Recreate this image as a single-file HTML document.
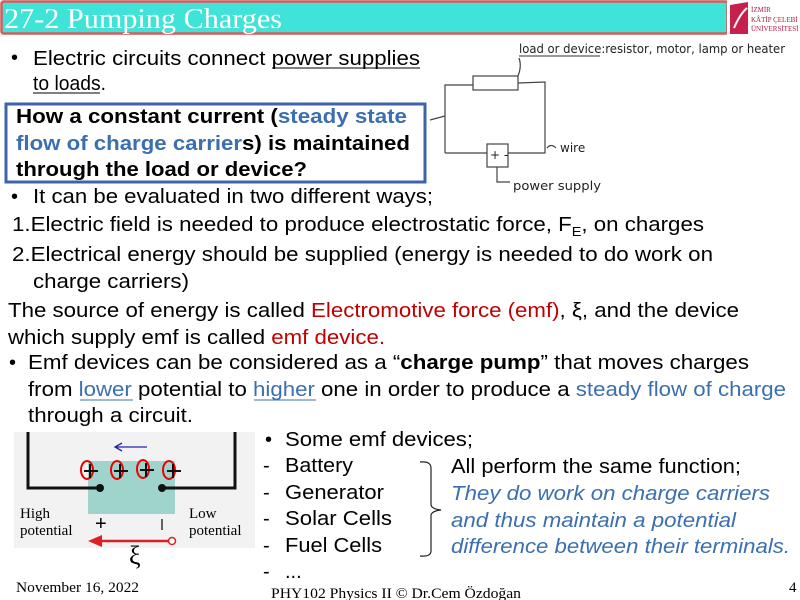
<!DOCTYPE html>
<html><head><meta charset="utf-8"><style>
html,body{margin:0;padding:0;background:#fff;}
svg{display:block;}
.t{font-family:"Liberation Sans",Arial,sans-serif;font-size:20px;fill:#000;}
.s{font-family:"Liberation Serif","Times New Roman",serif;}
.h{font-family:"Comic Sans MS","DejaVu Sans",sans-serif;font-size:12px;fill:#222;}
</style></head><body>
<svg width="800" height="600" viewBox="0 0 800 600" xmlns="http://www.w3.org/2000/svg">
<rect x="1.5" y="1.5" width="726" height="32" rx="2" fill="#3fe3d8" stroke="#d85a5a" stroke-width="2.5"/>
<text x="4" y="28" class="s" font-size="28" fill="#fff" textLength="278" lengthAdjust="spacingAndGlyphs">27-2 Pumping Charges</text>
<rect x="727" y="0" width="73" height="36" fill="#fff"/>
<path d="M730 5 L748 2 L748 34 L730 34 Z" fill="#c8204c"/>
<path d="M734 28 Q740 14 747 8" stroke="#fff" stroke-width="2" fill="none"/>
<text x="751" y="12" class="s" font-size="7" fill="#b01840">İZMİR</text>
<text x="751" y="22" class="s" font-size="7" fill="#b01840">KÂTİP ÇELEBİ</text>
<text x="751" y="31" class="s" font-size="7" fill="#b01840">ÜNİVERSİTESİ</text>

<text x="11" y="64" class="t">•</text>
<text x="33" y="65" class="t" textLength="387" lengthAdjust="spacingAndGlyphs">Electric circuits connect power supplies</text>
<line x1="272" y1="68" x2="420" y2="68" stroke="#000" stroke-width="1"/>
<text x="33" y="90" class="t" textLength="73" lengthAdjust="spacingAndGlyphs">to loads.</text>
<line x1="33" y1="93" x2="100" y2="93" stroke="#000" stroke-width="1"/>

<rect x="6" y="104" width="419" height="78" fill="#fff" stroke="#3b65a8" stroke-width="3"/>
<text x="16" y="123" class="t" font-weight="bold" textLength="391" lengthAdjust="spacingAndGlyphs">How a constant current (<tspan fill="#3b6fb0">steady state</tspan></text>
<text x="16" y="150" class="t" font-weight="bold" textLength="394" lengthAdjust="spacingAndGlyphs"><tspan fill="#3b6fb0">flow of charge carrier</tspan>s) is maintained</text>
<text x="16" y="176" class="t" font-weight="bold" textLength="291" lengthAdjust="spacingAndGlyphs">through the load or device?</text>

<g stroke="#444" stroke-width="1.2" fill="none">
<path d="M445 153 L445 85 L473 85"/>
<rect x="473" y="76" width="45" height="14"/>
<path d="M518 83 L545 82 L545 153 L508 153"/>
<rect x="487" y="144" width="21" height="23"/>
<path d="M445 153 L487 153"/>
<path d="M497 167 L497 182 L510 182"/>
<path d="M518 76 Q522 66 519 58"/>
<path d="M547 148 Q551 143 556 148"/>
<path d="M430 120 L445 116"/>
</g>
<text x="490" y="159" class="h" font-size="10">+ -</text>
<text x="519" y="53" class="h" font-size="11" textLength="266" lengthAdjust="spacingAndGlyphs">load or device:resistor, motor, lamp or heater</text>
<line x1="519" y1="56" x2="600" y2="56" stroke="#333" stroke-width="1"/>
<text x="560" y="152" class="h" font-size="12">wire</text>
<text x="513" y="190" class="h" font-size="12" textLength="88" lengthAdjust="spacingAndGlyphs">power supply</text>

<text x="11" y="203" class="t">•</text>
<text x="33" y="203" class="t" textLength="400" lengthAdjust="spacingAndGlyphs">It can be evaluated in two different ways;</text>
<text x="12" y="231" class="t" textLength="692" lengthAdjust="spacingAndGlyphs">1.Electric field is needed to produce electrostatic force, F<tspan font-size="13" dy="5">E</tspan><tspan dy="-5">, on charges</tspan></text>
<text x="12" y="261" class="t" textLength="701" lengthAdjust="spacingAndGlyphs">2.Electrical energy should be supplied (energy is needed to do work on</text>
<text x="33" y="288" class="t" textLength="156" lengthAdjust="spacingAndGlyphs">charge carriers)</text>
<text x="8" y="317" class="t" textLength="731" lengthAdjust="spacingAndGlyphs">The source of energy is called <tspan fill="#c00000">Electromotive force (emf)</tspan>, ξ, and the device</text>
<text x="8" y="344" class="t" textLength="377" lengthAdjust="spacingAndGlyphs">which supply emf is called <tspan fill="#c00000">emf device.</tspan></text>
<text x="9" y="369" class="t">•</text>
<text x="28" y="369" class="t" textLength="721" lengthAdjust="spacingAndGlyphs">Emf devices can be considered as a “<tspan font-weight="bold">charge pump</tspan>” that moves charges</text>
<text x="28" y="396" class="t" textLength="758" lengthAdjust="spacingAndGlyphs">from <tspan fill="#3b6fb0">lower</tspan> potential to <tspan fill="#3b6fb0">higher</tspan> one in order to produce a <tspan fill="#3b6fb0">steady flow of charge</tspan></text>
<line x1="80" y1="400" x2="133" y2="400" stroke="#3b6fb0" stroke-width="1"/>
<line x1="254" y1="400" x2="316" y2="400" stroke="#3b6fb0" stroke-width="1"/>
<text x="28" y="422" class="t" textLength="165" lengthAdjust="spacingAndGlyphs">through a circuit.</text>

<rect x="14" y="432" width="241" height="116" fill="#f2f2f2"/>
<rect x="88" y="461" width="87" height="53" fill="#9fd4cc"/>
<path d="M28 432 L28 488 L100 488" stroke="#111" stroke-width="3" fill="none"/>
<path d="M235 432 L235 488 L162 488" stroke="#111" stroke-width="3" fill="none"/>
<circle cx="100" cy="488" r="4" fill="#111"/>
<circle cx="162" cy="488" r="4" fill="#111"/>
<path d="M147 447 L116 447 M122 443 L115 447 L122 451" stroke="#2222aa" stroke-width="1.3" fill="none"/>
<g stroke-width="2" fill="none">
<ellipse cx="87" cy="470" rx="6" ry="9" stroke="#e00"/>
<ellipse cx="117" cy="470" rx="6" ry="9" stroke="#e00"/>
<ellipse cx="143" cy="469" rx="6" ry="9" stroke="#e00"/>
<ellipse cx="169" cy="470" rx="6" ry="9" stroke="#e00"/>
<path d="M84 471 L98 471 M90 464 L90 478 M114 471 L128 471 M120 464 L120 478 M140 470 L154 470 M146 463 L146 477 M167 471 L181 471 M173 464 L173 478" stroke="#111"/>
</g>
<text x="20" y="518" class="s" font-size="15">High</text>
<text x="20" y="535" class="s" font-size="15">potential</text>
<text x="189" y="518" class="s" font-size="15">Low</text>
<text x="189" y="535" class="s" font-size="15">potential</text>
<text x="95" y="530" class="t" font-size="14" fill="#333">+</text>
<line x1="162" y1="519" x2="162" y2="530" stroke="#333" stroke-width="1.5"/>
<path d="M168 541 L100 541" stroke="#e02020" stroke-width="2.5"/>
<path d="M88 541 L102 535 L102 547 Z" fill="#e02020"/>
<circle cx="172" cy="541" r="3.5" fill="#fff" stroke="#e02020" stroke-width="1.5"/>
<text x="129" y="564" class="s" font-size="26">ξ</text>

<text x="265" y="446" class="t">•</text>
<text x="285" y="446" class="t" textLength="188" lengthAdjust="spacingAndGlyphs">Some emf devices;</text>
<text x="263" y="472" class="t">-</text><text x="285" y="472" class="t" textLength="68" lengthAdjust="spacingAndGlyphs">Battery</text>
<text x="263" y="499" class="t">-</text><text x="285" y="499" class="t" textLength="99" lengthAdjust="spacingAndGlyphs">Generator</text>
<text x="263" y="525" class="t">-</text><text x="285" y="525" class="t" textLength="107" lengthAdjust="spacingAndGlyphs">Solar Cells</text>
<text x="263" y="552" class="t">-</text><text x="285" y="552" class="t" textLength="97" lengthAdjust="spacingAndGlyphs">Fuel Cells</text>
<text x="263" y="578" class="t">-</text><text x="285" y="578" class="t">...</text>
<path d="M420 462 Q431 461 431 468 L431 505 Q432 509 441 510 Q432 511 431 515 L431 551 Q431 557 420 556" stroke="#222" stroke-width="1.2" fill="none"/>
<text x="451" y="473" class="t" textLength="290" lengthAdjust="spacingAndGlyphs">All perform the same function;</text>
<g font-style="italic">
<text x="451" y="500" class="t" style="fill:#3b6fb0" textLength="319" lengthAdjust="spacingAndGlyphs">They do work on charge carriers</text>
<text x="451" y="527" class="t" style="fill:#3b6fb0" textLength="285" lengthAdjust="spacingAndGlyphs">and thus maintain a potential</text>
<text x="451" y="553" class="t" style="fill:#3b6fb0" textLength="339" lengthAdjust="spacingAndGlyphs">difference between their terminals.</text>
</g>

<text x="16" y="592" class="s" font-size="15" textLength="123" lengthAdjust="spacingAndGlyphs">November 16, 2022</text>
<text x="271" y="598" class="s" font-size="15" textLength="250" lengthAdjust="spacingAndGlyphs">PHY102 Physics II © Dr.Cem Özdoğan</text>
<text x="789" y="592" class="s" font-size="15">4</text>
</svg>
</body></html>
